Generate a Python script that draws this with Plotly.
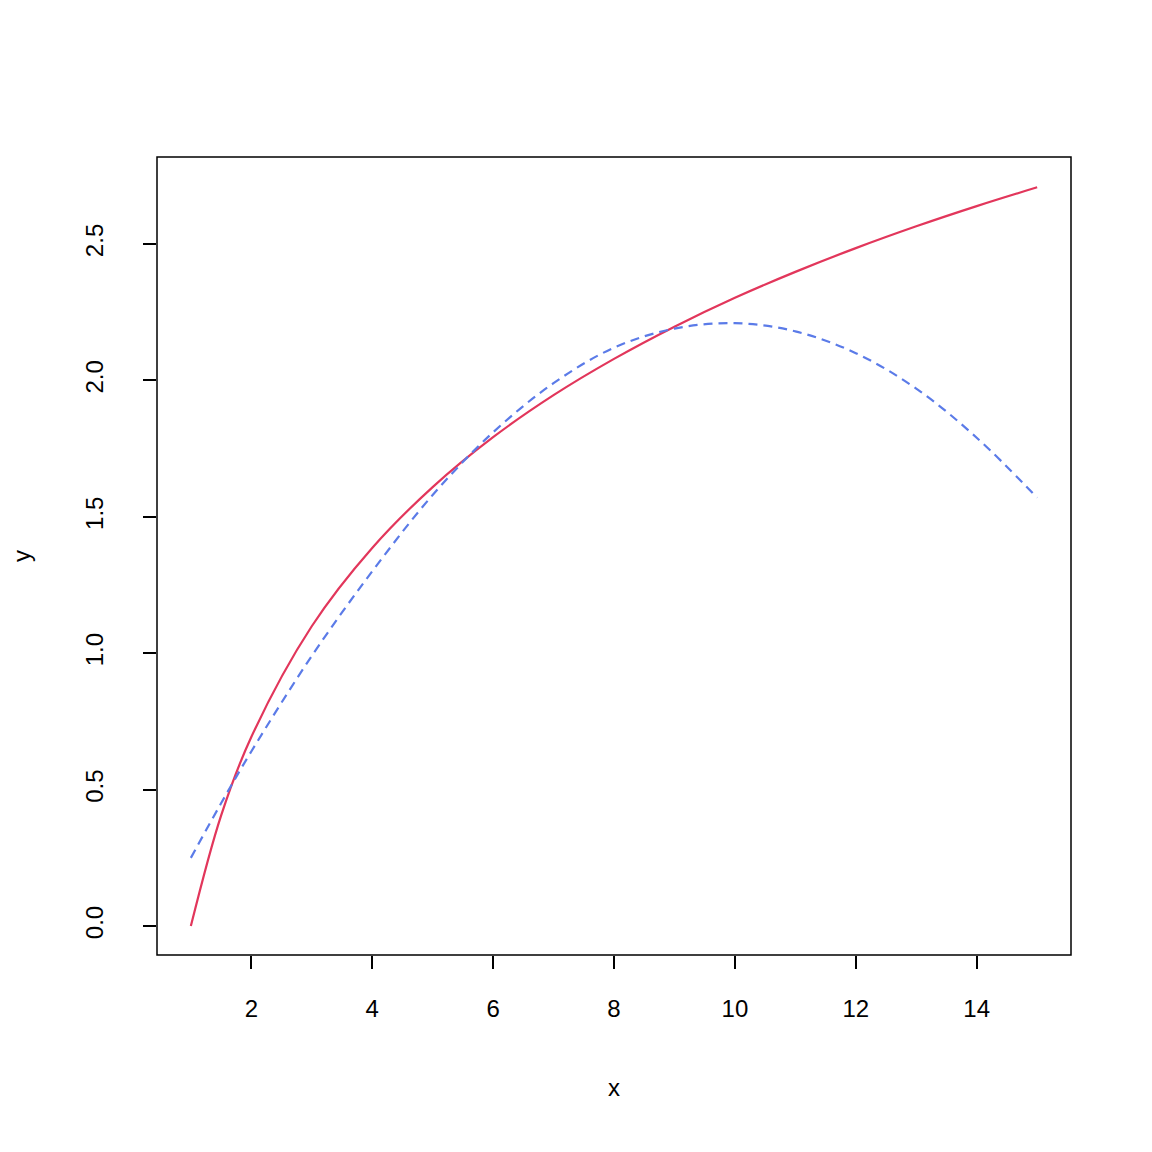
import plotly.graph_objects as go

x = [1, 1.5, 2, 3, 4, 5, 6, 7, 8, 9, 10, 11, 12, 13, 14, 15]
y_red = [0.0, 0.405, 0.693, 1.099, 1.386, 1.609, 1.792, 1.946, 2.079, 2.197, 2.303, 2.398, 2.485, 2.565, 2.639, 2.708]
y_blue = [0.25, 0.45, 0.64, 0.99, 1.30, 1.58, 1.81, 1.99, 2.12, 2.19, 2.21, 2.18, 2.10, 1.97, 1.79, 1.57]

fig = go.Figure()
fig.add_trace(go.Scatter(x=x, y=y_red, mode="lines", line=dict(color="#E2365B", width=2.2, shape="spline")))
fig.add_trace(go.Scatter(x=x, y=y_blue, mode="lines", line=dict(color="#5B7BE8", width=2.2, dash="9px,6px", shape="spline")))

font = dict(family="Liberation Sans, Arial", size=24, color="black")
fig.update_layout(
    width=1152, height=1152, showlegend=False,
    plot_bgcolor="white", paper_bgcolor="white",
    margin=dict(l=149, r=89, t=149, b=205, autoexpand=False), font=font,
    xaxis=dict(range=[0.44, 15.56], tickvals=[2, 4, 6, 8, 10, 12, 14], ticks="outside", ticklen=13,
               tickcolor="black", tickwidth=1.5, showgrid=False, zeroline=False, showline=False,
               ticklabelstandoff=19,
               title=dict(text="x", font=font, standoff=58)),
    yaxis=dict(range=[-0.106, 2.819], tickvals=[0, 0.5, 1, 1.5, 2, 2.5], ticktext=["0.0", "0.5", "1.0", "1.5", "2.0", "2.5"],
               tickangle=-90, ticks="outside", ticklen=13, tickcolor="black", tickwidth=1.5, showgrid=False,
               zeroline=False, showline=False, ticklabelstandoff=30,
               title=dict(text="y", font=font, standoff=45)),
    shapes=[dict(type="rect", xref="paper", yref="paper", x0=0, x1=1, y0=0, y1=1, line=dict(color="black", width=1.5))],
)
fig.write_html("out.html")
